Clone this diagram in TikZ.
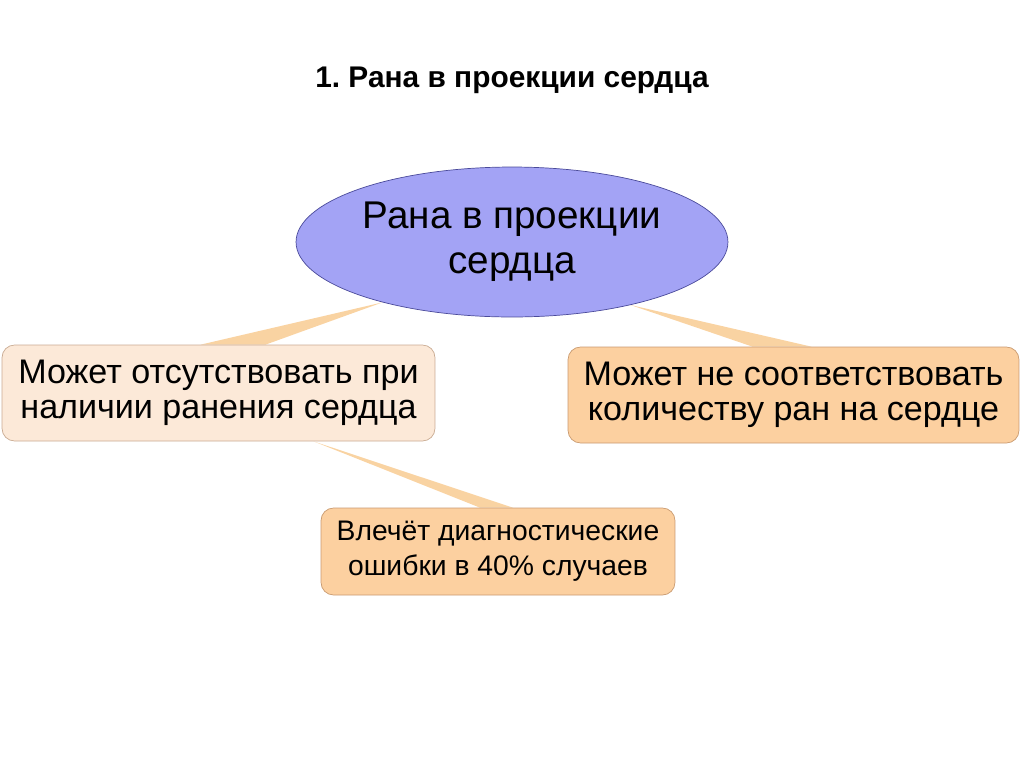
\documentclass[tikz,border=0pt]{standalone}
\usepackage{fontspec}
\setmainfont{Liberation Sans}
\usetikzlibrary{shapes.geometric,backgrounds,calc,positioning}
\definecolor{rootfill}{HTML}{A3A3F5}
\definecolor{rootline}{HTML}{4A4A9A}
\definecolor{palefill}{HTML}{FCE9D8}
\definecolor{palefillline}{HTML}{C9AA92}
\definecolor{peachfill}{HTML}{FCD0A0}
\definecolor{peachline}{HTML}{C99A70}
\definecolor{wedgecol}{HTML}{F9D3A2}
\frenchspacing

\begin{document}
\begin{tikzpicture}[x=0.02cm,y=-0.02cm,
  title/.style={font=\fontsize{17}{20}\selectfont\bfseries},
  root/.style={ellipse,draw=rootline,fill=rootfill,thin,minimum width=8.64cm,minimum height=3cm,inner sep=0pt,align=center,font=\fontsize{22}{25.5}\selectfont},
  topic/.style={rectangle,rounded corners=0.25cm,thin,minimum height=1.92cm,inner sep=0pt,align=center,font=\fontsize{19.4}{20}\selectfont},
  wedge/.style={fill=wedgecol}]
\useasboundingbox (0,0) rectangle (1024,768);
\node[title] (head) at (512,80) {1. Рана в проекции сердца};
\node[root] (root) at (512,242) {Рана в проекции\\сердца};
\node[topic,draw=palefillline,fill=palefill,minimum width=8.66cm] (absent) at (218.5,393) {Может отсутствовать при\\наличии ранения сердца};
\node[topic,draw=peachline,fill=peachfill,minimum width=9.02cm] (count) at (793.5,395) {Может не соответствовать\\количеству ран на сердце};
\node[topic,draw=peachline,fill=peachfill,minimum width=7.08cm,minimum height=1.74cm,font=\fontsize{16.1}{19.8}\selectfont] (error) at (498,551.5) {Влечёт диагностические\\ошибки в 40\% случаев};
% tapered links
\begin{scope}[on background layer]
\fill[wedge] (root.205) -- ($(absent.north)+(-18,0)$) -- ($(absent.north)+(47,0)$) -- cycle;
\fill[wedge] (root.332) -- ($(count.north)+(-41,0)$) -- ($(count.north)+(18,0)$) -- cycle;
\fill[wedge] ($(absent.south)+(95,0)$) -- ($(error.north)+(-18,0)$) -- ($(error.north)+(15,0)$) -- cycle;
\end{scope}
\end{tikzpicture}
\end{document}
